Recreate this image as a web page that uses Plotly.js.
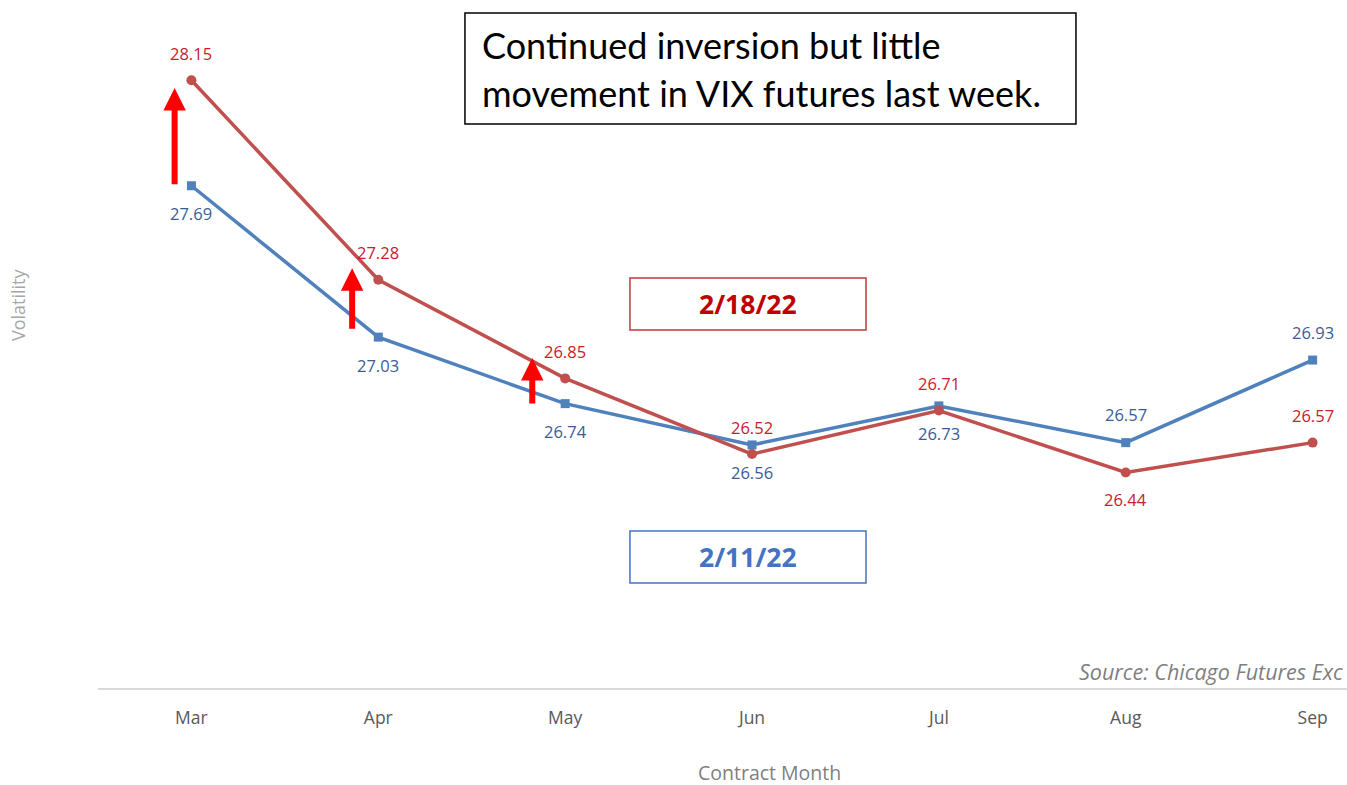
<!DOCTYPE html>
<html>
<head>
<meta charset="utf-8">
<script src="https://cdn.plot.ly/plotly-3.0.1.min.js"></script>
<style>
html,body{margin:0;padding:0;background:#fff;overflow:hidden;}
#chart{width:1347px;height:785px;}
</style>
</head>
<body>
<div id="chart"></div>
<script>
// ---- data ----
const months = ["Mar", "Apr", "May", "Jun", "Jul", "Aug", "Sep"];
const feb18 = [28.15, 27.28, 26.85, 26.52, 26.71, 26.44, 26.57];
const feb11 = [27.69, 27.03, 26.74, 26.56, 26.73, 26.57, 26.93];
const feb18Name = "2/18/22";
const feb11Name = "2/11/22";
const arrowMonths = ["Mar", "Apr", "May"];

// ---- style / decoration placement ----
const redLine = "#C0504D", blueLine = "#4F81BD";
const redText = "#C8202A", blueText = "#3A5C96";
const redLabelSide = [1, 1, 1, 1, 1, -1, 1];   // 1 = above, -1 = below
const blueLabelSide = [-1, -1, -1, -1, -1, 1, 1];
const arrowShift = [-0.09, -0.14, -0.176];
const arrowTail = [27.69, 27.06, 26.734];
const arrowTip = [28.116, 27.33, 26.939];
const font = "Open Sans, sans-serif";

const traces = [
  {
    x: months, y: feb11, name: feb11Name, type: "scatter", mode: "lines+markers",
    line: {color: blueLine, width: 3.5},
    marker: {symbol: "square", size: 9, color: blueLine},
    hoverinfo: "x+y"
  },
  {
    x: months, y: feb18, name: feb18Name, type: "scatter", mode: "lines+markers",
    line: {color: redLine, width: 3.5},
    marker: {symbol: "circle", size: 10, color: redLine},
    hoverinfo: "x+y"
  }
];

const annotations = [];
months.forEach((m, i) => {
  annotations.push({x: m, y: feb18[i], xref: "x", yref: "y", text: feb18[i].toFixed(2),
    showarrow: false, yshift: 27 * redLabelSide[i], font: {family: font, size: 16.5, color: redText}});
  annotations.push({x: m, y: feb11[i], xref: "x", yref: "y", text: feb11[i].toFixed(2),
    showarrow: false, yshift: 28 * blueLabelSide[i], font: {family: font, size: 16.5, color: blueText}});
});
arrowMonths.forEach((m, i) => {
  const idx = months.indexOf(m);
  annotations.push({
    x: idx + arrowShift[i], y: arrowTip[i], xref: "x", yref: "y",
    ax: idx + arrowShift[i], ay: arrowTail[i], axref: "x", ayref: "y",
    text: "", showarrow: true, arrowhead: 2, arrowsize: 0.75, arrowwidth: 6, arrowcolor: "#FF0000"
  });
});
// text boxes
annotations.push({xref: "paper", yref: "paper", x: 0.3058, y: 0.9346, xanchor: "left", yanchor: "middle",
  text: "Continued inversion but little", showarrow: false, font: {family: "Lato, sans-serif", size: 36, color: "#000"}});
annotations.push({xref: "paper", yref: "paper", x: 0.3058, y: 0.8648, xanchor: "left", yanchor: "middle",
  text: "movement in VIX futures last week.", showarrow: false, font: {family: "Lato, sans-serif", size: 36, color: "#000"}});
annotations.push({xref: "paper", yref: "paper", x: 0.5204, y: 0.5581, xanchor: "center", yanchor: "middle",
  text: "<b>" + feb18Name + "</b>", showarrow: false, font: {family: font, size: 26.5, color: "#C00000"}});
annotations.push({xref: "paper", yref: "paper", x: 0.5204, y: 0.1904, xanchor: "center", yanchor: "middle",
  text: "<b>" + feb11Name + "</b>", showarrow: false, font: {family: font, size: 26.5, color: "#4472C4"}});
annotations.push({xref: "paper", yref: "paper", x: 0.7838, y: 0.0233, xanchor: "left", yanchor: "middle",
  text: "<i>Source: Chicago Futures Exc</i>", showarrow: false, font: {family: font, size: 21.5, color: "#7F7F7F"}});
annotations.push({xref: "paper", yref: "paper", x: -0.064, y: 0.5567, xanchor: "center", yanchor: "middle",
  textangle: -90, text: "Volatility", showarrow: false, font: {family: font, size: 18, color: "#A6A6A6"}});
annotations.push({xref: "paper", yref: "paper", x: 0.538, y: -0.1235, xanchor: "center", yanchor: "middle",
  text: "Contract Month", showarrow: false, borderpad: 0, font: {family: font, size: 19.5, color: "#7F7F7F"}});

const shapes = [
  {type: "rect", xref: "paper", yref: "paper", x0: 0.2938, x1: 0.7830, y0: 0.8198, y1: 0.9811,
   line: {color: "#000", width: 1.5}, fillcolor: "rgba(0,0,0,0)"},
  {type: "rect", xref: "paper", yref: "paper", x0: 0.4259, x1: 0.6149, y0: 0.5203, y1: 0.5959,
   line: {color: "#C0393B", width: 1.5}, fillcolor: "rgba(0,0,0,0)"},
  {type: "rect", xref: "paper", yref: "paper", x0: 0.4259, x1: 0.6149, y0: 0.1526, y1: 0.2282,
   line: {color: "#4472C4", width: 1.5}, fillcolor: "rgba(0,0,0,0)"}
];

const layout = {
  width: 1347, height: 785,
  margin: {l: 98, r: 0, t: 0, b: 97},
  paper_bgcolor: "#fff", plot_bgcolor: "#fff",
  showlegend: false,
  xaxis: {
    type: "category", range: [-0.5, 6.184],
    showline: true, linecolor: "#D9D9D9", linewidth: 2,
    ticks: "", showgrid: false, zeroline: false,
    tickfont: {family: font, size: 17.5, color: "#595959"},
    ticklabelstandoff: 13
  },
  yaxis: {
    range: [25.5, 28.5], showgrid: false, zeroline: false, showline: false,
    showticklabels: false, ticks: ""
  },
  annotations: annotations,
  shapes: shapes
};

Plotly.newPlot("chart", traces, layout, {displayModeBar: false, responsive: false});
</script>
</body>
</html>
